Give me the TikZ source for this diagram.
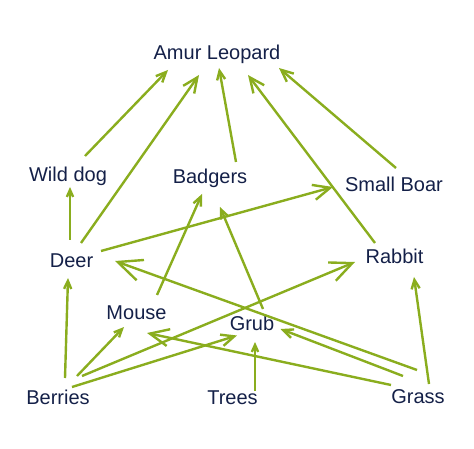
\documentclass[tikz,border=0pt]{standalone}
\usepackage{fontspec}
\setmainfont{Liberation Sans}
\usetikzlibrary{arrows.meta,calc}
\definecolor{leaf}{RGB}{138,173,30}
\definecolor{ink}{RGB}{20,32,72}

\begin{document}
\begin{tikzpicture}[x = 1pt, y = -1pt,
		animal/.style = {anchor = base, inner sep = 0pt, text = ink, font = \fontsize{20}{24}\selectfont},
		eats/.style = {draw = leaf, line width = 2.4pt, -{Straight Barb[length = #1pt, width' = 0pt 0.9]}}]
			\useasboundingbox (0, 0) rectangle (474, 449);
			% animals and plants
			\node[animal] (amur)      at (217, 60)    {Amur Leopard};
			\node[animal] (wilddog)   at (68, 182)    {Wild dog};
			\node[animal] (badgers)   at (210, 184)   {Badgers};
			\node[animal] (smallboar) at (394, 191.5) {Small Boar};
			\node[animal] (deer)      at (71.5, 267.5) {Deer};
			\node[animal] (rabbit)    at (394.5, 263) {Rabbit};
			\node[animal] (mouse)     at (136.5, 319) {Mouse};
			\node[animal] (grub)      at (252, 330)   {Grub};
			\node[animal] (berries)   at (58, 404)    {Berries};
			\node[animal] (trees)     at (232.5, 404) {Trees};
			\node[animal] (grass)     at (418, 403)   {Grass};
			% who eats whom, into the leopard
			\draw[eats = 10] ($(wilddog.base) + (17, -26)$)     -- ($(amur.base) + (-49, 10)$);
			\draw[eats = 15] ($(deer.base) + (9.5, -24.5)$)     -- ($(amur.base) + (-18, 15)$);
			\draw[eats = 9]  ($(badgers.base) + (26, -22)$)     -- ($(amur.base) + (2, 8)$);
			\draw[eats = 15] ($(rabbit.base) + (-19.5, -20)$)   -- ($(amur.base) + (31, 15)$);
			\draw[eats = 12] ($(smallboar.base) + (2, -23.5)$)  -- ($(amur.base) + (62, 8)$);
			% middle of the web
			\draw[eats = 7]  ($(deer.base) + (-1.5, -27.5)$)    -- ($(wilddog.base) + (2, 5)$);
			\draw[eats = 17] ($(deer.base) + (29.5, -16.5)$)    -- ($(smallboar.base) + (-61, -4.5)$);
			\draw[eats = 9]  ($(mouse.base) + (20.5, -24)$)     -- ($(badgers.base) + (-8, 10)$);
			\draw[eats = 9]  ($(grub.base) + (11, -21)$)        -- ($(badgers.base) + (10, 23)$);
			% plants
			\draw[eats = 8]  ($(berries.base) + (7, -26)$)      -- ($(deer.base) + (-3.5, 10.5)$);
			\draw[eats = 8]  ($(berries.base) + (19, -28)$)     -- ($(mouse.base) + (-12.5, 8)$);
			\draw[eats = 22] ($(berries.base) + (24, -28)$)     -- ($(rabbit.base) + (-39.5, -1)$);
			\draw[eats = 13] ($(berries.base) + (14, -17)$)     -- ($(grub.base) + (-15, 5.5)$);
			\draw[eats = 7]  ($(trees.base) + (22.5, -13)$)     -- ($(grub.base) + (3, 12)$);
			\draw[eats = 24] ($(grass.base) + (-1, -33)$)       -- ($(deer.base) + (43.5, -6.5)$);
			\draw[eats = 19] ($(grass.base) + (-27, -18)$)      -- ($(mouse.base) + (10.5, 14)$);
			\draw[eats = 10] ($(grass.base) + (-15, -27)$)      -- ($(grub.base) + (28.5, -1)$);
			\draw[eats = 9]  ($(grass.base) + (11, -19)$)       -- ($(rabbit.base) + (19.5, 14)$);
		\end{tikzpicture}
\end{document}
